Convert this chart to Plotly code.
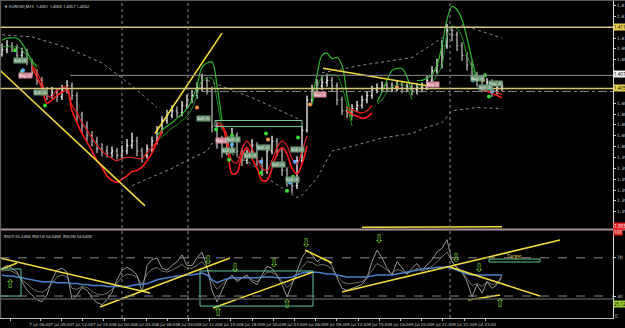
import plotly.graph_objects as go

# ---------------- data (prices stored as pips above BASE) ----------------
BASE = 1.39
SCALE = 10000.0

open_first_v = 190
close_v = [194,198,196,189,192,183,173,166,157,152,155,151,157,161,152,134,124,115,110,103,
           101,99,101,97,101,106,110,101,97,103,110,120,129,134,138,136,143,148,152,159,
           166,157,124,110,101,106,115,101,92,97,106,92,83,101,110,101,83,73,69,92,
           120,148,157,161,164,166,161,148,138,136,140,143,148,152,157,159,161,159,160,162,
           159,160,157,159,160,166,175,180,198,212,208,198,189,180,171,166,161,164,157,159,161]
high_v = [200,203,201,199,196,195,186,176,169,160,160,158,162,166,164,155,137,128,119,114,
          108,106,105,104,106,112,118,114,104,107,114,124,133,139,143,142,147,153,157,164,
          172,169,160,128,115,112,122,118,104,102,112,109,95,106,115,113,104,86,76,96,
          124,152,162,167,170,172,169,164,151,142,144,147,152,156,161,163,165,164,164,166,
          165,163,163,163,164,170,179,186,203,218,216,211,201,192,184,174,169,168,167,163,165]
low_v = [188,191,192,185,186,180,170,162,153,148,149,146,148,154,148,128,118,110,105,99,
         96,95,95,93,94,98,103,96,90,94,100,107,117,126,131,132,133,140,145,149,
         156,153,118,103,95,97,103,96,87,89,94,87,78,80,98,96,78,68,62,66,
         90,118,145,153,157,160,156,143,134,131,132,137,140,145,149,154,155,155,155,156,
         154,155,152,153,155,157,163,172,177,195,202,193,184,175,166,160,155,157,151,153,156]

# band indicator segments: (first bar, values)
green_outer = [(0, [203,205,205,205,200,192,184,179]),
               (31, [115,120,124,127,131,135,140,148,161,178,182,183,161,129]),
               (62, [148,171,189,191,186,187,180,152,129]),
               (75, [146,155,166,175,177,177,169,154]),
               (83, [166,166,168,171,180,198,222,234,231,222,205,185,166])]
green_inner = [(0, [197,197,197,197,194,188,182,175]),
               (31, [110,114,118,122,125,129,133,140,152,166,168,168,148,120]),
               (62, [143,159,169,171,171,170,160,143,124]),
               (75, [144,148,155,160,162,163,159,148]),
               (83, [161,161,162,164,171,180,208,216,214,206,189,178,164])]
red_outer = [(6, [178,169,159,145,148,152,155,157,138,127,117,109,101,92,86,78,74,72,75,78,82,83,86,92,99,109,118]),
             (43, [124,123,108,80,81,97,104,94,85,74,74,85,98,104,98,85,80,89,106]),
             (69, [138,135,133,131,132,136]),
             (96, [157,156,154,152,150])]
red_inner = [(6, [180,173,164,152,151,157,159,160,143,136,127,120,113,106,101,97,94,92,94,95,95,94,94,99,104,110,120]),
             (43, [127,125,115,92,90,103,110,103,94,85,83,92,104,110,106,94,89,101,115]),
             (69, [141,139,137,136,138,143]),
             (96, [159,158,157,155,153])]

env_upper_x = [0,6,13,20,26,31,None,41,50,60,None,64,72,82,92,100]
env_upper_v = [208,206,196,182,161,141,None,166,150,129,None,173,180,187,217,205]
env_lower_x = [26,29,34,37,41,42,46,50,53,56,59,60,63,66,68,73,76,82,85,88,90,95,100]
env_lower_v = [69,75,85,92,101,108,98,89,76,67,58,60,76,101,103,109,113,117,123,127,138,141,140]

rsi7 = [59,62,59,55,45,36,31,26,24,31,47,57,59,55,26,31,39,36,28,23,
        21,26,34,47,57,60,57,52,34,62,68,70,59,57,62,66,73,62,62,70,
        76,61,36,24,36,47,52,45,49,52,45,42,52,61,59,52,42,29,42,55,
        70,78,73,66,70,68,62,49,38,36,38,40,42,49,66,78,70,59,52,66,
        59,53,59,64,57,62,68,76,80,89,66,59,55,45,29,42,33,45,38,42,52]
rsi14 = [56,57,56,53,47,42,38,35,34,37,44,50,52,50,38,37,40,39,35,32,
         31,33,37,44,50,53,52,50,42,53,58,60,56,55,57,60,63,59,59,62,
         66,59,45,37,42,47,50,47,49,50,47,45,50,55,55,51,46,39,44,52,
         60,66,65,62,63,62,58,51,45,43,43,44,45,49,57,64,61,57,53,58,
         56,53,56,59,56,58,61,66,70,76,66,60,56,49,41,43,40,45,42,43,49]
rsi28 = [52,51,51,50,49,48,47,46,45,45,45,44,44,44,43,43,42,42,41,41,
         41,40,40,40,40,40,41,42,42,43,45,47,48,49,50,51,51,52,52,53,
         54,52,47,44,46,48,49,49,49,49,49,49,50,50,50,49,49,49,50,52,
         54,55,55,55,54,53,53,52,51,50,50,50,50,50,51,52,52,52,52,53,
         54,55,56,57,58,59,59,60,60,60,59,57,55,53,52,52,52,52,52,52,52]

# price scale tick values (tags cover the others)
price_ticks = [1.4135, 1.4125, 1.4105, 1.4095, 1.4085, 1.4045, 1.4035, 1.4025, 1.4015, 1.4005,
               1.3995, 1.3985, 1.3975, 1.3965, 1.3955, 1.3945]

# drawn objects (bar index, price) and (bar index, RSI)
price_trend = [((-0.4, 1.40753), (28.6, 1.39504)),
               ((30.6, 1.40170), (44.0, 1.41095)),
               ((64.2, 1.40771), (85.6, 1.40605)),
               ((72.0, 1.39307), (100.0, 1.39312))]
rsi_trend = [((-0.4, 69.8), (29.6, 33.1)), ((-0.4, 57.2), (3.0, 64.5)),
             ((19.6, 18.5), (45.6, 69.8)), ((42.2, 17.5), (62.2, 55.1)),
             ((60.6, 78.1), (66.0, 64.5)), ((68.0, 34.2), (111.6, 88.6)),
             ((89.6, 60.3), (107.6, 30.0)), ((93.2, 25.8), (99.6, 31.1))]
rsi_boxes = [((-0.4, 58.3), (3.8, 30.0)), ((39.6, 56.2), (62.2, 19.5))]
target_box = ((97.4, 68.7), (107.6, 65.6))
price_box = ((42.6, 1.40290), (60.0, 1.40234))
arrows_up = [(1.6, 43.6), (43.2, 13.3), (57.0, 22.7), (99.6, 23.7)]
arrows_down = [(41.2, 67.7), (46.6, 60.3), (54.4, 65.6), (60.8, 86.5), (75.4, 90.7), (90.8, 69.8), (95.4, 60.3)]
vlines = [24.0, 37.2, 89.6]
hline_top = 1.41150
hline_mid = 1.40586
hline_grey = 1.40706
hline_dash = 1.40558

dots_green = [(2.6, 1.40938), (4.0, 1.40743), (8.6, 1.40429), (42.8, 1.40207), (46.0, 1.40151), (52.8, 1.40170),
              (59.2, 1.40133), (45.4, 1.39929), (51.8, 1.39809), (58.2, 1.39772), (57.0, 1.39643), (96.6, 1.40706), (97.4, 1.40512)]
dots_blue = [(46.0, 1.40068), (51.8, 1.39911), (58.6, 1.39911), (57.6, 1.39717), (94.2, 1.40660), (98.0, 1.40558), (4.2, 1.40753)]
dots_orange = [(53.2, 1.40114), (61.6, 1.40438), (79.0, 1.40595), (96.2, 1.40660), (39.0, 1.40410)]
trade_labels = [(3.6, 1.40845, "Sell +5", "g"), (4.6, 1.40706, "Buy +5", "p"), (7.6, 1.40549, "Sell +5", "g"),
                (40.2, 1.40308, "Sell +5", "g"), (44.0, 1.40105, "Buy -5", "p"), (46.2, 1.40114, "Sell +5", "g"),
                (45.2, 1.40013, "Sell +5", "g"), (49.6, 1.39966, "Sell +5", "g"), (52.2, 1.40040, "Sell +5", "g"),
                (55.2, 1.39883, "Sell +5", "g"), (59.0, 1.40022, "Sell +5", "g"), (58.0, 1.39744, "Sell +5", "g"),
                (63.6, 1.40530, "Buy -5", "p"), (86.2, 1.40623, "Buy -5", "p"), (95.0, 1.40679, "Buy +5", "g"),
                (98.6, 1.40632, "Buy +5", "g"), (96.6, 1.40595, "Sell +5", "g")]

time_labels = ["7 Jul 2009", "7 Jul 06:00", "7 Jul 09:00", "7 Jul 12:00", "7 Jul 15:00", "8 Jul 00:00",
               "8 Jul 03:00", "8 Jul 06:00", "8 Jul 09:00", "8 Jul 12:00", "8 Jul 15:00", "8 Jul 18:00",
               "9 Jul 00:00", "9 Jul 03:00", "9 Jul 06:00", "9 Jul 09:00", "9 Jul 12:00", "9 Jul 15:00",
               "9 Jul 18:00", "9 Jul 20:00", "9 Jul 21:00", "9 Jul 22:00", "9 Jul 23:00"]

# ---------------- build ----------------
def to_price(v):
    return None if v is None else BASE + v / SCALE

bars = list(range(len(close_v)))
open_v = [open_first_v] + close_v[:-1]

fig = go.Figure()
fig.add_trace(go.Scatter(x=env_upper_x, y=[to_price(v) for v in env_upper_v], mode="lines",
                         line=dict(color="#8a8a8a", width=1, dash="dot"), xaxis="x", yaxis="y"))
fig.add_trace(go.Scatter(x=env_lower_x, y=[to_price(v) for v in env_lower_v], mode="lines",
                         line=dict(color="#8a8a8a", width=1, dash="dot"), xaxis="x", yaxis="y"))

fig.add_trace(go.Ohlc(
    x=bars, open=[to_price(v) for v in open_v], high=[to_price(v) for v in high_v],
    low=[to_price(v) for v in low_v], close=[to_price(v) for v in close_v],
    increasing=dict(line=dict(color="#f4f4f4", width=1.3)),
    decreasing=dict(line=dict(color="#b4b4b4", width=1.3)),
    tickwidth=0.25, xaxis="x", yaxis="y", hoverinfo="skip", showlegend=False))

for segs, col, w in [(green_outer, "#2fb82f", 1.2), (green_inner, "#1f8f1f", 1.0),
                     (red_outer, "#ff1a1a", 1.6), (red_inner, "#e02020", 1.2)]:
    for start, vals in segs:
        fig.add_trace(go.Scatter(x=[start + k for k in range(len(vals))], y=[to_price(v) for v in vals],
                                 mode="lines", line=dict(color=col, width=w, shape="spline"),
                                 xaxis="x", yaxis="y"))

for pts, col in [(dots_green, "#33dd33"), (dots_blue, "#5ab4ff"), (dots_orange, "#ff9a4a")]:
    fig.add_trace(go.Scatter(x=[p[0] for p in pts], y=[p[1] for p in pts], mode="markers",
                             marker=dict(color=col, size=4), xaxis="x", yaxis="y"))

# RSI
fig.add_trace(go.Scatter(x=bars, y=rsi14, mode="lines", line=dict(color="#7c7c6c", width=0.9), xaxis="x2", yaxis="y2"))
fig.add_trace(go.Scatter(x=bars, y=rsi7, mode="lines", line=dict(color="#a8a8a8", width=0.9), xaxis="x2", yaxis="y2"))
fig.add_trace(go.Scatter(x=bars, y=rsi28, mode="lines", line=dict(color="#4a80cc", width=1.5), xaxis="x2", yaxis="y2"))

shapes = []
YEL = "#f2dc3c"
KHAKI = "#d6c87a"
for (x0, y0), (x1, y1) in price_trend:
    shapes.append(dict(type="line", xref="x", yref="y", x0=x0, y0=y0, x1=x1, y1=y1, line=dict(color=YEL, width=1.6)))
for (x0, y0), (x1, y1) in rsi_trend:
    shapes.append(dict(type="line", xref="x2", yref="y2", x0=x0, y0=y0, x1=x1, y1=y1, line=dict(color=YEL, width=1.6)))
for (x0, y0), (x1, y1) in rsi_boxes:
    shapes.append(dict(type="rect", xref="x2", yref="y2", x0=x0, y0=y0, x1=x1, y1=y1, line=dict(color="#5cc8a0", width=1)))
(tx0, ty0), (tx1, ty1) = target_box
shapes.append(dict(type="rect", xref="x2", yref="y2", x0=tx0, y0=ty0, x1=tx1, y1=ty1, line=dict(color="#5cc88a", width=1)))
(bx0, by0), (bx1, by1) = price_box
shapes.append(dict(type="rect", xref="x", yref="y", x0=bx0, y0=by0, x1=bx1, y1=by1, line=dict(color="#7fc89f", width=1)))
# horizontal levels
shapes.append(dict(type="line", xref="paper", yref="y", x0=0, x1=1, y0=hline_top, y1=hline_top, line=dict(color=KHAKI, width=1.5)))
shapes.append(dict(type="line", xref="paper", yref="y", x0=0, x1=1, y0=hline_mid, y1=hline_mid, line=dict(color=KHAKI, width=1.5)))
shapes.append(dict(type="line", xref="x", yref="y", x0=13.6, x1=122.2, y0=hline_grey, y1=hline_grey, line=dict(color="#8a8a8a", width=1)))
shapes.append(dict(type="line", xref="x", yref="y", x0=40, x1=122.2, y0=hline_dash, y1=hline_dash, line=dict(color="#8a8a8a", width=1, dash="dashdot")))
# RSI levels
for lvl, dash in [(70, "dash"), (30, "dash")]:
    shapes.append(dict(type="line", xref="paper", yref="y2", x0=0, x1=1, y0=lvl, y1=lvl, line=dict(color="#8a8a8a", width=1, dash=dash)))
shapes.append(dict(type="line", xref="paper", yref="y2", x0=0, x1=1, y0=27, y1=27, line=dict(color="#505050", width=1.5)))
# vertical dotted separators
for vx in vlines:
    shapes.append(dict(type="line", xref="x", yref="paper", x0=vx, x1=vx, y0=0.00625, y1=1, line=dict(color="#8c8c8c", width=1, dash="dot")))
# pane separator and borders
shapes.append(dict(type="line", xref="paper", yref="paper", x0=0, x1=1.02, y0=0.2828, y1=0.2828, line=dict(color="#a8909a", width=2)))
shapes.append(dict(type="line", xref="paper", yref="paper", x0=0, x1=1.02, y0=0.999, y1=0.999, line=dict(color="#707070", width=1)))
shapes.append(dict(type="line", xref="paper", yref="paper", x0=0.001, x1=0.001, y0=0.00625, y1=1, line=dict(color="#6a6a6a", width=1)))

ann = []
ann.append(dict(xref="paper", yref="paper", x=0.004, y=0.995, xanchor="left", yanchor="top", showarrow=False,
                text="▼ EURUSD,M15  1.4061 1.4066 1.4057 1.4062", font=dict(size=4, color="#e0e0e0")))
ann.append(dict(xref="paper", yref="paper", x=0.004, y=0.276, xanchor="left", yanchor="top", showarrow=False,
                text="RSI(7) 55.2468  RSI(14) 54.5468  RSI(28) 54.6408", font=dict(size=4, color="#e0e0e0")))
for bx, by, txt, kind in trade_labels:
    ann.append(dict(xref="x", yref="y", x=bx, y=by, showarrow=False, text=txt,
                    font=dict(size=4, color="#ffffff"), bgcolor="#6f9a78" if kind == "g" else "#d68a9a", borderpad=0))
for ax_, ay_ in arrows_up:
    ann.append(dict(xref="x2", yref="y2", x=ax_, y=ay_, showarrow=False, text="⇧", font=dict(size=12, color="#7ad83a")))
for ax_, ay_ in arrows_down:
    ann.append(dict(xref="x2", yref="y2", x=ax_, y=ay_, showarrow=False, text="⇩", font=dict(size=12, color="#7ad83a")))
ann.append(dict(xref="x2", yref="y2", x=102.5, y=71.5, showarrow=False, text="Target", font=dict(size=5, color="#e0c850")))
# price tags on the right scale
for yv, txt, bg, fg in [(hline_top, "1.4115", "#e8d050", "#000"), (1.40715, "1.4071", "#f0f0f0", "#000"),
                        (hline_mid, "1.4059", "#e8d050", "#000"), (1.3932, "1.3930", "#e02020", "#fff")]:
    ann.append(dict(xref="paper", yref="y", x=1.0, y=yv, xanchor="left", showarrow=False, text=txt,
                    font=dict(size=4.5, color=fg), bgcolor=bg, borderpad=0))
ann.append(dict(xref="paper", yref="y2", x=1.0, y=97, xanchor="left", showarrow=False, text="100",
                font=dict(size=4.5, color="#fff"), bgcolor="#e02020", borderpad=0))
ann.append(dict(xref="paper", yref="y2", x=1.0, y=22, xanchor="left", showarrow=False, text="25.12",
                font=dict(size=4.5, color="#000"), bgcolor="#9acd32", borderpad=0))
ann.append(dict(xref="paper", yref="y2", x=1.0, y=9, xanchor="left", showarrow=False, text="0",
                font=dict(size=4.5, color="#ccc")))

tick_pos = [1.6] + [(38 + 21.2 * k) / 5.0 for k in range(len(time_labels) - 1)]

fig.update_layout(
    width=625, height=328, margin=dict(l=0, r=12, t=0, b=8),
    paper_bgcolor="black", plot_bgcolor="black", showlegend=False,
    shapes=shapes, annotations=ann,
    xaxis=dict(domain=[0, 1], range=[-0.4, 122.2], anchor="y", showticklabels=False, showgrid=False,
               zeroline=False, rangeslider=dict(visible=False), showline=False, ticks=""),
    yaxis=dict(domain=[0.2875, 1], range=[1.3930, 1.4140], side="right", anchor="x",
               tickmode="array", tickvals=price_ticks, tickformat=".4f", ticks="outside", ticklen=2,
               tickcolor="#cccccc", tickfont=dict(size=4.5, color="#cccccc", family="DejaVu Sans"),
               showgrid=False, zeroline=False,
               showline=True, linecolor="#d8d8d8", linewidth=1, automargin=False),
    xaxis2=dict(domain=[0, 1], range=[-0.4, 122.2], anchor="y2", matches="x", tickmode="array",
                tickvals=tick_pos, ticktext=time_labels, tickangle=0, ticks="outside", ticklen=2,
                tickcolor="#bbbbbb", tickfont=dict(size=4, color="#c0c0c0", family="DejaVu Sans"),
                showline=True, linecolor="#bbbbbb", showgrid=False, zeroline=False, automargin=False),
    yaxis2=dict(domain=[0.00625, 0.278], range=[7, 98], side="right", anchor="x2", tickmode="array",
                tickvals=[30, 70], ticktext=["30", "70"], ticks="outside", ticklen=2, tickcolor="#cccccc",
                tickfont=dict(size=4.5, color="#cccccc", family="DejaVu Sans"), showgrid=False, zeroline=False,
                showline=True, linecolor="#d8d8d8", linewidth=1, automargin=False),
)

fig.write_html("out.html")
